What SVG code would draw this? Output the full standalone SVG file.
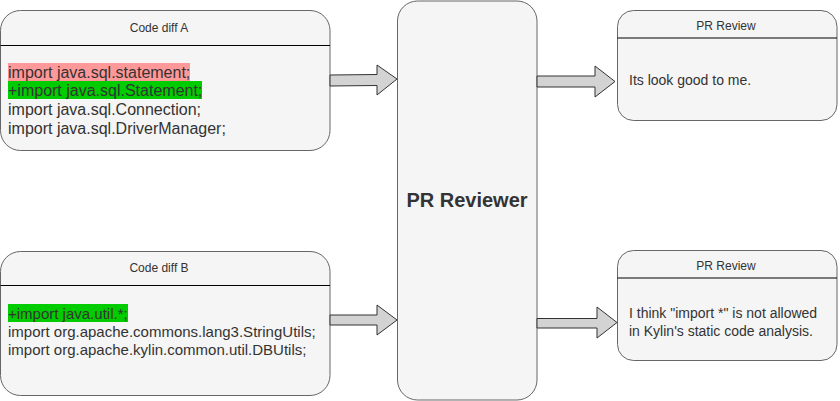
<svg xmlns="http://www.w3.org/2000/svg" width="840" height="401" viewBox="0 0 840 401">
<style>
.box{fill:#f5f5f5;stroke:#666666;stroke-width:1}
.hdr{stroke:#000000;stroke-width:1}
.title{font-family:"Liberation Sans",Arial,sans-serif;font-size:12px;fill:#333333;text-anchor:middle}
.body{font-family:"Liberation Sans",Arial,sans-serif;font-size:14px;fill:#333333}
.a{font-size:16px}
.b{font-size:15px}
.arrow{fill:#d3d3d3;stroke:#333333;stroke-width:1;stroke-linejoin:miter}
.big{font-family:"Liberation Sans",Arial,sans-serif;font-size:20px;font-weight:bold;fill:#333333;text-anchor:middle}
</style>
<rect width="840" height="401" fill="#ffffff"/>
<g id="code-diff-a">
<rect class="box" x="0.5" y="10.5" width="329.5" height="140" rx="20" ry="20"/>
<line class="hdr" x1="0.5" y1="45.5" x2="330" y2="45.5"/>
<text class="title" x="159" y="32">Code diff A</text>
<rect x="8" y="63" width="182" height="18" fill="#ff9999"/>
<rect x="8" y="81" width="194" height="18" fill="#00cc00"/>
<text class="body a" x="8" y="77.5">import java.sql.statement;</text>
<text class="body a" x="8" y="96">+import java.sql.Statement;</text>
<text class="body a" x="8" y="115">import java.sql.Connection;</text>
<text class="body a" x="8" y="133.5">import java.sql.DriverManager;</text>
</g>
<g id="code-diff-b">
<rect class="box" x="0.5" y="251.5" width="329.5" height="144" rx="20" ry="20"/>
<line class="hdr" x1="0.5" y1="285.5" x2="330" y2="285.5"/>
<text class="title" x="159" y="272">Code diff B</text>
<rect x="8" y="304" width="120" height="18" fill="#00cc00"/>
<text class="body b" x="8" y="318.5">+import java.util.*;</text>
<text class="body b" x="8" y="336.5">import org.apache.commons.lang3.StringUtils;</text>
<text class="body b" x="8" y="354.5">import org.apache.kylin.common.util.DBUtils;</text>
</g>
<g id="pr-reviewer">
<rect class="box" x="397.5" y="1" width="139.5" height="399" rx="20" ry="20"/>
<text class="big" x="467" y="207">PR Reviewer</text>
</g>
<g id="pr-review-1">
<rect class="box" x="617.5" y="10.5" width="219.5" height="110" rx="16" ry="16"/>
<line class="hdr" x1="617.5" y1="38" x2="837" y2="38"/>
<text class="title" x="726" y="30">PR Review</text>
<text class="body" x="629" y="85">Its look good to me.</text>
</g>
<g id="pr-review-2">
<rect class="box" x="617.5" y="250.5" width="219.5" height="110" rx="16" ry="16"/>
<line class="hdr" x1="617.5" y1="278" x2="837" y2="278"/>
<text class="title" x="726" y="270">PR Review</text>
<text class="body" x="629" y="318">I think "import *" is not allowed</text>
<text class="body" x="629" y="336">in Kylin's static code analysis.</text>
</g>
<g id="connectors">
<polygon class="arrow" points="330,75 377,74.5 377,65 397,79 377,95 377,85.5 330,86"/>
<polygon class="arrow" points="330,315 377,315 377,305 397,320 377,335 377,325 330,325"/>
<polygon class="arrow" points="537,76 595,76 595,66 615,81.5 595,97 595,87 537,87"/>
<polygon class="arrow" points="537,318.5 597,318.5 597,307 617,322.5 597,338 597,328 537,328"/>
</g>
</svg>
